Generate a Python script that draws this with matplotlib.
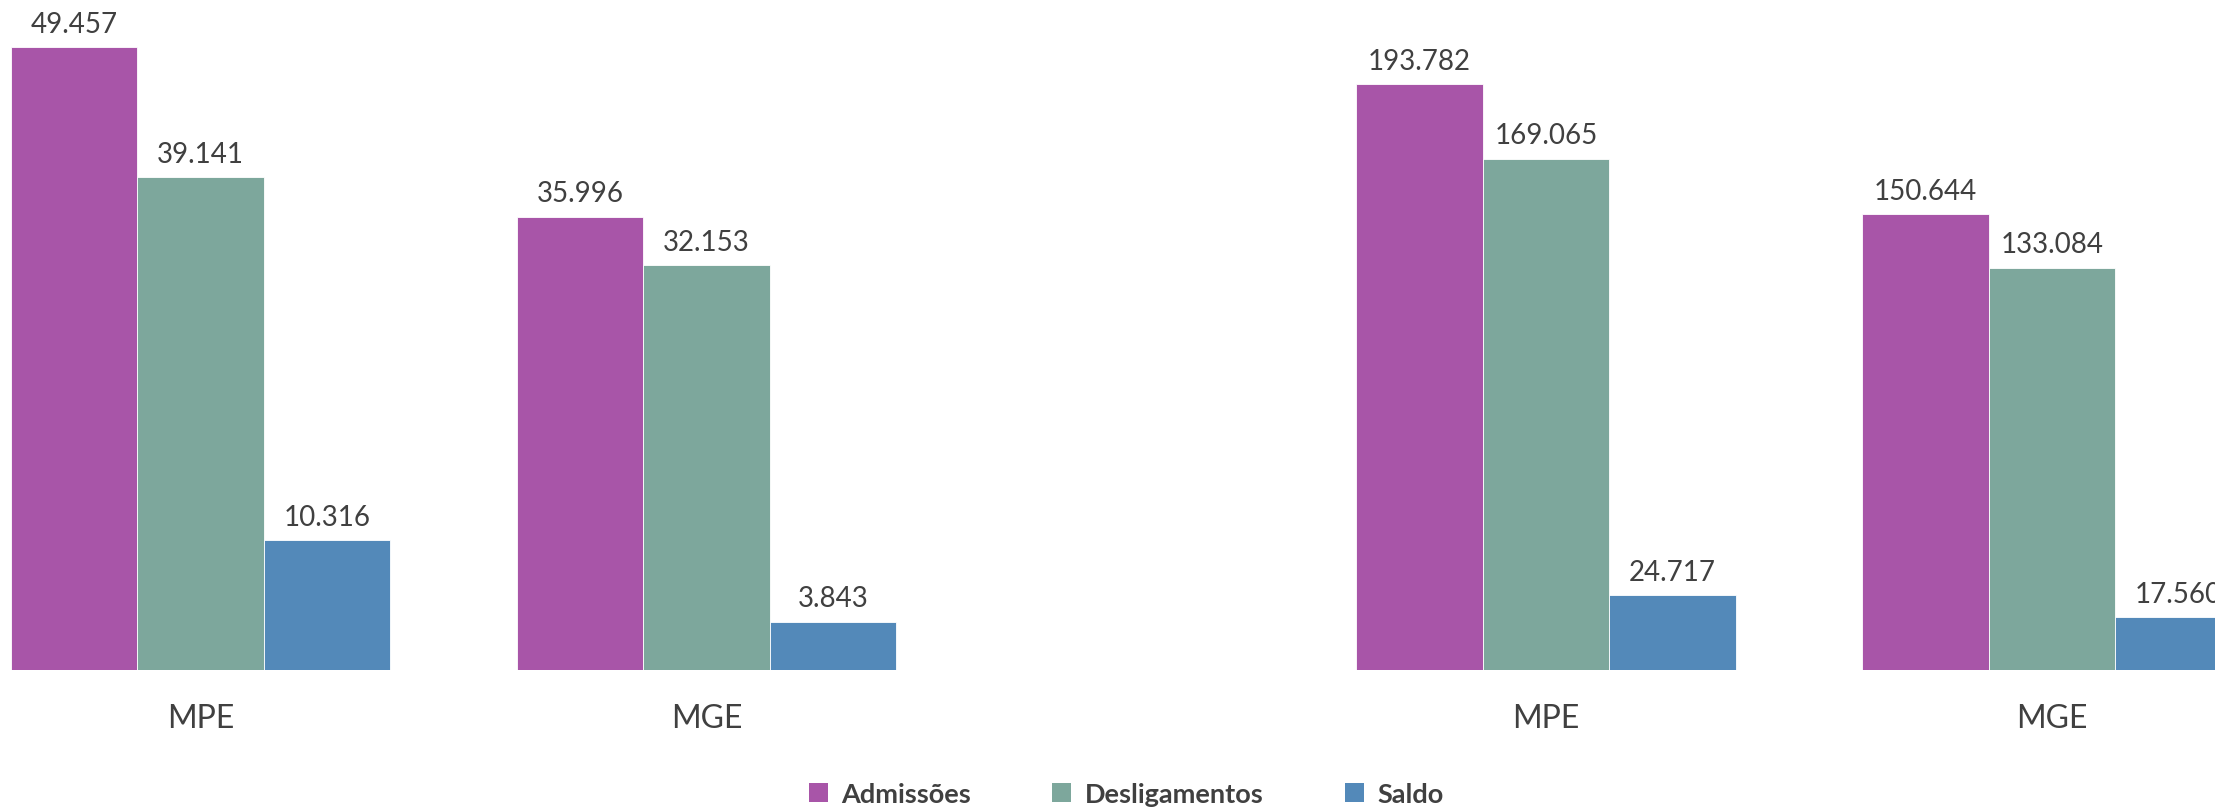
import matplotlib
matplotlib.use("Agg")
import matplotlib.pyplot as plt
from matplotlib.patches import Patch

plt.rcParams['font.family'] = ['Lato', 'DejaVu Sans']

# data
categories = ['MPE', 'MGE']
series = ['Admissões', 'Desligamentos', 'Saldo']
colors = ['#A855A8', '#7DA79C', '#5389B9']

left_admissoes = [49457, 35996]
left_desligamentos = [39141, 32153]
left_saldo = [10316, 3843]

right_admissoes = [193782, 150644]
right_desligamentos = [169065, 133084]
right_saldo = [24717, 17560]

W, H = 2215, 812
fig = plt.figure(figsize=(W / 100, H / 100), dpi=100)

text_color = '#404040'


def fmt(v):
    return f"{v:,}".replace(",", ".")


def draw_panel(left_px, ymax, data):
    ax = fig.add_axes([left_px / W, (H - 671) / H, 1012 / W, 671 / H])
    width = 0.25
    for i, (vals, col) in enumerate(zip(data, colors)):
        xs = [c + (i - 1) * width for c in range(len(categories))]
        ax.bar(xs, vals, width=width, color=col, edgecolor='white', linewidth=0.6)
        for x, v in zip(xs, vals):
            ax.annotate(fmt(v), (x, v), xytext=(0, 11), textcoords='offset points',
                        ha='center', va='baseline', fontsize=20, color=text_color)
    ax.set_xlim(-0.5, len(categories) - 0.5)
    ax.set_ylim(0, ymax)
    for c, name in enumerate(categories):
        ax.text(c, -0.085, name, transform=ax.get_xaxis_transform(),
                ha='center', va='baseline', fontsize=23, color=text_color)
    ax.axis('off')
    return ax


draw_panel(-52.5, 49457 * 671 / 623,
           [left_admissoes, left_desligamentos, left_saldo])
draw_panel(1293, 193782 * 671 / 586,
           [right_admissoes, right_desligamentos, right_saldo])

handles = [Patch(facecolor=c, edgecolor='none', label=s) for c, s in zip(colors, series)]
fig.legend(handles=handles, loc='center', bbox_to_anchor=(1126 / W, 1 - 795 / H),
           ncol=3, frameon=False, handlelength=0.7, handleheight=0.7,
           handletextpad=0.5, columnspacing=3.0,
           prop={'weight': 'bold', 'size': 19.5}, labelcolor=text_color)

fig.savefig('out.png', dpi=100)
